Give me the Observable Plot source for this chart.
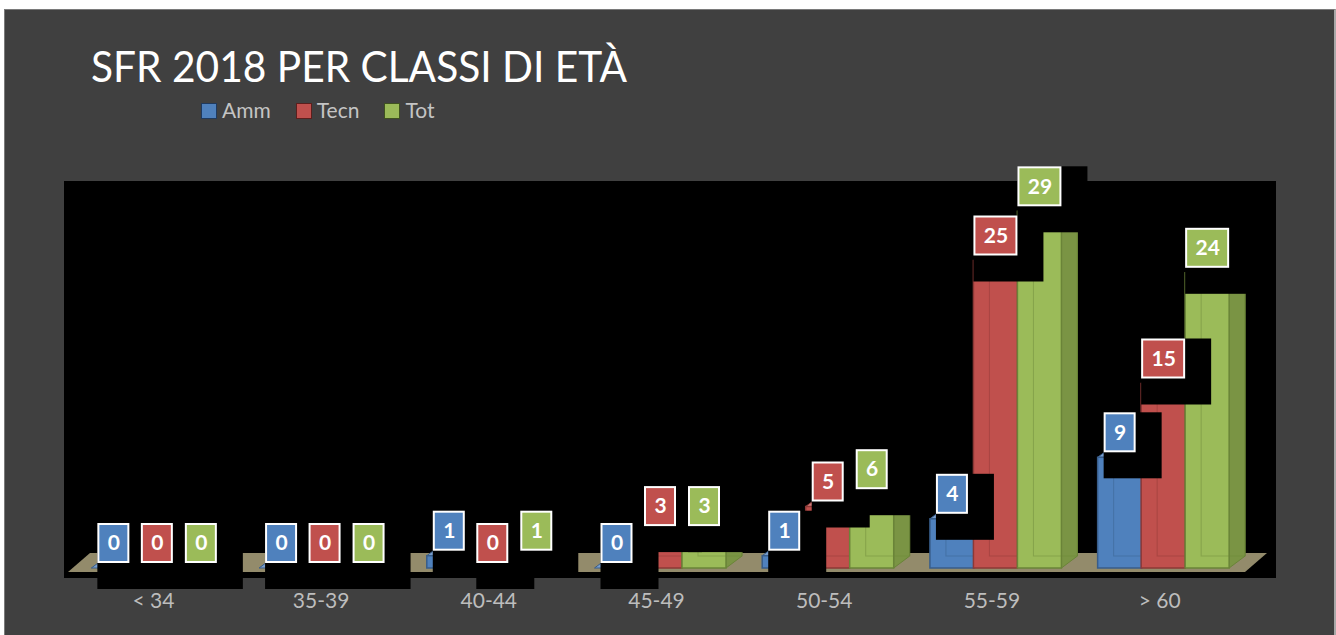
<!DOCTYPE html>
<html>
<head>
<meta charset="utf-8">
<script src="https://cdn.jsdelivr.net/npm/d3@7"></script>
<script src="https://cdn.jsdelivr.net/npm/@observablehq/plot@0.6"></script>
<style>
  html, body { margin: 0; padding: 0; background: #ffffff; }
  #card {
    position: absolute; left: 4px; top: 9px; width: 1332px; height: 626px;
    background: #404040; box-sizing: border-box;
    border-top: 1px solid #7a7a7a; border-left: 1px solid #7a7a7a; border-right: 2px solid #a8a8a8;
    overflow: hidden; font-family: Lato, "Open Sans", sans-serif;
  }
  #title {
    position: absolute; left: 86px; top: 35px; font-size: 42px; line-height: 1;
    color: #ffffff; white-space: nowrap; transform-origin: 0 0;
  }
  #legend {
    position: absolute; left: 196px; top: 89px; display: flex; align-items: flex-start;
    font-size: 21px; line-height: 1; color: #c4c4c4;
  }
  .item { display: flex; align-items: flex-start; margin-right: 25px; }
  .sw { width: 14px; height: 14px; margin-top: 4px; margin-right: 5px; border: 1px solid #222; }
  #chart { position: absolute; left: -1px; top: 130px; }
</style>
</head>
<body>
<div id="card">
  <div id="title"></div>
  <div id="legend"></div>
  <div id="chart"></div>
</div>
<script>
// ---- data ----
const titleText = "SFR 2018 PER CLASSI DI ETÀ";
const categories = ["< 34", "35-39", "40-44", "45-49", "50-54", "55-59", "> 60"];
const seriesNames = ["Amm", "Tecn", "Tot"];
const amm  = [0, 0, 1, 0, 1, 4, 9];
const tecn = [0, 0, 0, 3, 5, 25, 15];
const tot  = [0, 0, 1, 3, 6, 29, 24];
const seriesValues = [amm, tecn, tot];

// ---- styles ----
const styles = {
  Amm:  {off: -39.5, fill: "#4f81bd", stroke: "#385d8a", top: "#7a9fce", side: "#3a5f8c", dark: "#1f3a5f"},
  Tecn: {off: 4,     fill: "#c0504d", stroke: "#8c3836", top: "#d07d7a", side: "#8f3c39", dark: "#5c1f1d"},
  Tot:  {off: 48,    fill: "#9bbb59", stroke: "#6a8438", top: "#b4cd80", side: "#7a9444", dark: "#3f5220"}
};
const BAR_W = 44, DX = 16, DY = 12;

const rows = categories.flatMap((c, i) =>
  seriesNames.map((s, j) => ({cat: c, series: s, value: seriesValues[j][i]})));

// ---- title & legend ----
const t = document.getElementById("title");
t.textContent = titleText;
const tw = t.getBoundingClientRect().width;
t.style.transform = `scaleX(${536 / tw})`;

const lg = document.getElementById("legend");
seriesNames.forEach(s => {
  const it = document.createElement("div"); it.className = "item";
  const sw = document.createElement("div"); sw.className = "sw";
  sw.style.background = styles[s].fill; sw.style.borderColor = styles[s].dark;
  const tx = document.createElement("span"); tx.textContent = s;
  it.appendChild(sw); it.appendChild(tx); lg.appendChild(it);
});

// ---- chart ----
const W = 1329, H = 495;
const x0 = 65, x1 = 1239;
const bw = (x1 - x0) / categories.length;

function floorMark(index, scales) {
  const x = scales.x, y = scales.y;
  const b = x.bandwidth ? x.bandwidth() : bw;
  const xa = x(categories[0]) - 1, xb = x(categories[categories.length - 1]) + b + 2;
  const yb = y(0) + 4, fdx = 22, fdy = 19;
  const g = d3.create("svg:g");
  g.append("path")
    .attr("d", `M${xa},${yb}L${xb},${yb}L${xb + fdx},${yb - fdy}L${xa + fdx},${yb - fdy}Z`)
    .attr("fill", "#938b6b");
  return g.node();
}

function facesMark(name) {
  const st = styles[name];
  return (index, scales) => {
    const x = scales.x, y = scales.y;
    const b = x.bandwidth ? x.bandwidth() : bw;
    const g = d3.create("svg:g");
    for (const d of rows.filter(r => r.series === name)) {
      const xl = x(d.cat) + b / 2 + st.off - BAR_W / 2, xr = xl + BAR_W;
      const yt = y(d.value), yb = y(0);
      g.append("path")
        .attr("d", `M${xl},${yt}L${xl + DX},${yt - DY}L${xr + DX},${yt - DY}L${xr},${yt}Z`)
        .attr("fill", st.top).attr("stroke", st.stroke).attr("stroke-width", 1);
      g.append("path")
        .attr("d", `M${xr},${yt}L${xr + DX},${yt - DY}L${xr + DX},${yb - DY}L${xr},${yb}Z`)
        .attr("fill", st.side).attr("stroke", st.stroke).attr("stroke-width", 1);
    }
    return g.node();
  };
}

const marks = [Plot.frame({fill: "black", stroke: "black"}), floorMark];

seriesNames.forEach(name => {
  const st = styles[name];
  const data = rows.filter(r => r.series === name);
  const il = bw / 2 + st.off - BAR_W / 2, ir = bw - il - BAR_W;
  marks.push(facesMark(name));
  marks.push(Plot.barY(data, {x: "cat", y1: 0, y2: "value", fill: st.fill, stroke: st.stroke, strokeWidth: 1.5,
    insetLeft: il, insetRight: ir}));
  marks.push(Plot.barY(data, {x: "cat", y1: 0, y2: "value", fill: "none", stroke: st.stroke, strokeOpacity: 0.45, strokeWidth: 1,
    insetLeft: il + DX, insetRight: ir - DX, insetTop: -DY, insetBottom: DY}));
});

// label backgrounds (black), boxes and texts
const boxLayers = [[], []];
seriesNames.forEach(name => {
  const st = styles[name];
  [[d => d.value < 10, 30], [d => d.value >= 10, 42]].forEach(([flt, boxW]) => {
    const data = rows.filter(r => r.series === name && flt(r));
    const il = bw / 2 + st.off - boxW / 2, ir = bw - il - boxW;
    boxLayers[0].push(Plot.barY(data, {x: "cat", y1: "value", y2: "value", fill: "black",
      insetLeft: il - 1, insetRight: ir - 27, insetTop: -45, insetBottom: -21}));
    boxLayers[1].push(Plot.barY(data, {x: "cat", y1: "value", y2: "value", fill: st.fill, stroke: "white", strokeWidth: 2,
      insetLeft: il, insetRight: ir, insetTop: -44, insetBottom: 6}));
  });
});
marks.push(...boxLayers[0], ...boxLayers[1]);
seriesNames.forEach(name => {
  marks.push(Plot.text(rows.filter(r => r.series === name), {x: "cat", y: "value", text: d => String(d.value),
    dx: styles[name].off, dy: -25, fill: "white", fontWeight: "bold", fontSize: 21}));
});
// category labels
marks.push(Plot.text(categories, {x: d => d, frameAnchor: "bottom", dy: 30, fill: "#bdbdbd", fontSize: 21}));

const chart = Plot.plot({
  width: W, height: H,
  marginLeft: 60, marginRight: 58, marginTop: 41, marginBottom: 58,
  x: {domain: categories, range: [x0, x1], padding: 0, round: false, axis: null},
  y: {domain: [0, 30], range: [428, 59], axis: null},
  style: {background: "transparent", maxWidth: "none", overflow: "visible", fontFamily: "Lato, 'Open Sans', sans-serif"},
  marks
});
document.getElementById("chart").appendChild(chart);
</script>
</body>
</html>
